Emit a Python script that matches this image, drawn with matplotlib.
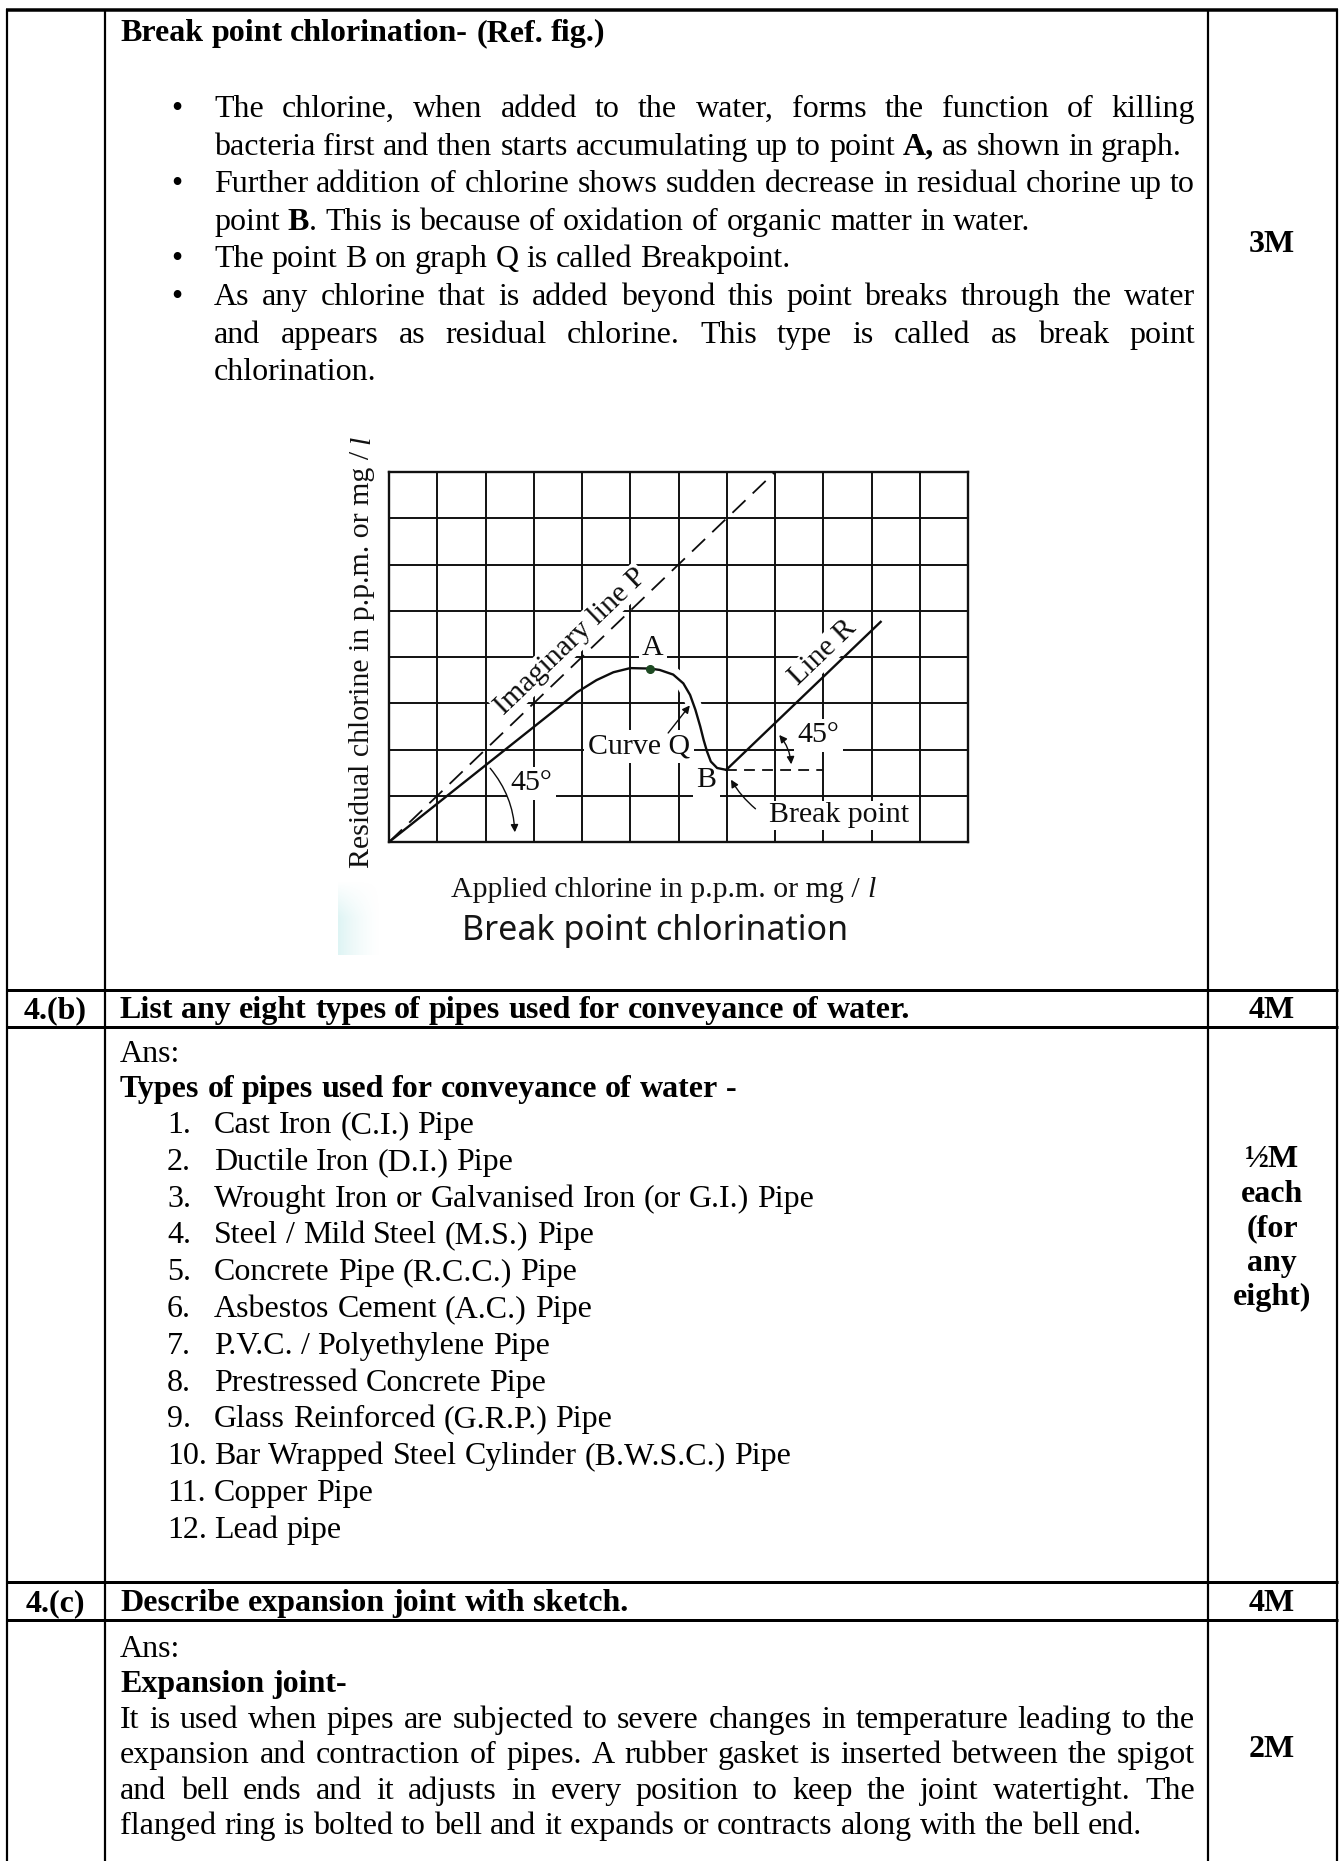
import numpy as np
import matplotlib
matplotlib.use("Agg")
import matplotlib.pyplot as plt
from matplotlib.patches import FancyArrowPatch

W, H = 1343, 1861
SERIF = "Liberation Serif"
SANS = "Noto Sans"
FS = 23
FS_FIG = 21.5

# ---------------- chart data (grid units: 12 x 8 squares) ----------------
n_cols, n_rows = 12, 8
line_p_u = [0.0, 8.0]
line_p_v = [0.0, 8.0]
curve_q_u = [0.0, 3.57, 3.90, 4.30, 4.65, 5.00, 5.41, 5.61, 5.89, 6.10, 6.24,
             6.35, 6.45, 6.52, 6.59, 6.67, 6.80, 6.99]
curve_q_v = [0.0, 2.96, 3.24, 3.50, 3.67, 3.76, 3.75, 3.72, 3.62, 3.43, 3.18,
             2.86, 2.50, 2.21, 1.96, 1.74, 1.60, 1.56]
point_a = (5.41, 3.75)
point_b = (6.99, 1.56)
line_r_u = [6.99, 10.19]
line_r_v = [1.56, 4.76]
b_dash_u = [6.99, 9.0]
b_dash_v = [1.56, 1.56]

# ---------------- page text ----------------
title_runs = [("Break point chlorination- (Ref. fig.)", True)]
bullet_lines = [
    ([("The chlorine, when added to the water, forms the function of killing", False)], True, True),
    ([("bacteria first and then starts accumulating up to point ", False), ("A,", True),
      (" as shown in graph.", False)], False, False),
    ([("Further addition of chlorine shows sudden decrease in residual chorine up to", False)], True, True),
    ([("point ", False), ("B", True), (". This is because of oxidation of organic matter in water.", False)],
     False, False),
    ([("The point B on graph Q is called Breakpoint.", False)], False, True),
    ([("As any chlorine that is added beyond this point breaks through the water", False)], True, True),
    ([("and appears as residual chlorine. This type is called as break point", False)], True, False),
    ([("chlorination.", False)], False, False),
]
pipe_types = ["Cast Iron (C.I.) Pipe", "Ductile Iron (D.I.) Pipe",
              "Wrought Iron or Galvanised Iron (or G.I.) Pipe", "Steel / Mild Steel (M.S.) Pipe",
              "Concrete Pipe (R.C.C.) Pipe", "Asbestos Cement (A.C.) Pipe",
              "P.V.C. / Polyethylene Pipe", "Prestressed Concrete Pipe",
              "Glass Reinforced (G.R.P.) Pipe", "Bar Wrapped Steel Cylinder (B.W.S.C.) Pipe",
              "Copper Pipe", "Lead pipe"]
marks_b = ["\u00bdM", "each", "(for", "any", "eight)"]
para_c = [
    ("It is used when pipes are subjected to severe changes in temperature leading to the", True),
    ("expansion and contraction of pipes. A rubber gasket is inserted between the spigot", True),
    ("and bell ends and it adjusts in every position to keep the joint watertight. The", True),
    ("flanged ring is bolted to bell and it expands or contracts along with the bell end.", False),
]

fig = plt.figure(figsize=(W / 100, H / 100), dpi=100)
fig.patch.set_facecolor("white")
page = fig.add_axes([0, 0, 1, 1])
page.set_xlim(0, W)
page.set_ylim(H, 0)
page.axis("off")
renderer = fig.canvas.get_renderer()

_cache = {}


def tw(s, bold=False, size=FS, family=SERIF, style="normal"):
    key = (s, bold, size, family, style)
    if key not in _cache:
        t = page.text(0, 0, s, fontsize=size, fontfamily=family,
                      fontweight="bold" if bold else "normal", fontstyle=style)
        _cache[key] = t.get_window_extent(renderer=renderer).width
        t.remove()
    return _cache[key]


def space_w(size=FS):
    return tw("x x", False, size) - tw("xx", False, size)


def words_of(runs):
    words = [[]]
    for txt, b in runs:
        parts = txt.split(" ")
        for k, p in enumerate(parts):
            if k > 0:
                words.append([])
            if p:
                words[-1].append((p, b))
    return [w for w in words if w]


def draw_line(runs, x0, y, x1=None, justify=False, size=FS):
    ws = words_of(runs)
    widths = [sum(tw(s, b, size) for s, b in w) for w in ws]
    if justify and len(ws) > 1:
        gap = (x1 - x0 - sum(widths)) / (len(ws) - 1)
    else:
        gap = space_w(size)
    x = x0
    for w, wd in zip(ws, widths):
        xx = x
        for s, b in w:
            page.text(xx, y, s, fontsize=size, fontfamily=SERIF,
                      fontweight="bold" if b else "normal", va="baseline", ha="left")
            xx += tw(s, b, size)
        x += wd + gap


def ctext(x, y, s, bold=True, size=FS):
    page.text(x, y, s, fontsize=size, fontfamily=SERIF, fontweight="bold" if bold else "normal",
              ha="center", va="baseline")


def hline(y, x0, x1, px):
    page.plot([x0, x1], [y, y], color="black", lw=px * 0.72, solid_capstyle="butt")


def vline(x, y0, y1, px):
    page.plot([x, x], [y0, y1], color="black", lw=px * 0.72, solid_capstyle="butt")


# ---------------- table rules ----------------
XL, XC1, XC2, XR = 7, 105, 1208, 1337
for x in (XL, XC1, XC2, XR):
    vline(x, 9, H, 2.2)
hline(10, XL - 1, XR + 1, 3.5)
for y in (990, 1027, 1582, 1620):
    hline(y, XL - 1, XR + 1, 3.0)

TX0, TX1 = 120, 1195
BX0 = 214

# ---------------- row 1 ----------------
draw_line(title_runs, TX0, 41)
for i, (runs, just, bul) in enumerate(bullet_lines):
    y = 117 + 37.6 * i
    if bul:
        page.text(177, y, "\u2022", fontsize=FS, fontfamily=SERIF, ha="center", va="baseline")
    draw_line(runs, BX0, y, TX1, just)
ctext(1272, 252, "3M")

# ---------------- row 4(b) ----------------
ctext(55, 1018, "4.(b)")
draw_line([("List any eight types of pipes used for conveyance of water.", True)], TX0, 1018)
ctext(1272, 1018, "4M")
draw_line([("Ans:", False)], TX0, 1062)
draw_line([("Types of pipes used for conveyance of water -", True)], TX0, 1097)
for i, name in enumerate(pipe_types):
    y = 1133 + 36.8 * i
    page.text(167, y, f"{i + 1}.", fontsize=FS, fontfamily=SERIF, ha="left", va="baseline")
    draw_line([(name, False)], BX0, y)
for i, m in enumerate(marks_b):
    ctext(1272, 1167 + 34.6 * i, m)

# ---------------- row 4(c) ----------------
ctext(55, 1611, "4.(c)")
draw_line([("Describe expansion joint with sketch.", True)], TX0, 1611)
ctext(1272, 1611, "4M")
draw_line([("Ans:", False)], TX0, 1657)
draw_line([("Expansion joint-", True)], TX0, 1692)
for i, (s, just) in enumerate(para_c):
    draw_line([(s, False)], TX0, 1728 + 35.3 * i, TX1, just)
ctext(1272, 1757, "2M")

# ---------------- figure captions ----------------
ylab = "Residual chlorine in p.p.m. or mg /"
L = tw(ylab, size=FS_FIG) + space_w(FS_FIG) + tw("l", size=FS_FIG, style="italic")
y_start = 652 + L / 2
page.text(369, y_start, ylab, rotation=90, rotation_mode="anchor", ha="left", va="baseline",
          fontsize=FS_FIG, fontfamily=SERIF, color="#111111")
page.text(369, y_start - tw(ylab, size=FS_FIG) - space_w(FS_FIG), "l", rotation=90,
          rotation_mode="anchor", ha="left", va="baseline", fontsize=FS_FIG, fontfamily=SERIF,
          fontstyle="italic", color="#111111")

xlab = "Applied chlorine in p.p.m. or mg /"
L = tw(xlab, size=FS_FIG) + space_w(FS_FIG) + tw("l", size=FS_FIG, style="italic")
x_start = 663.5 - L / 2
page.text(x_start, 897, xlab, ha="left", va="baseline", fontsize=FS_FIG, fontfamily=SERIF,
          color="#111111")
page.text(x_start + tw(xlab, size=FS_FIG) + space_w(FS_FIG), 897, "l", ha="left", va="baseline",
          fontsize=FS_FIG, fontfamily=SERIF, fontstyle="italic", color="#111111")

page.text(655.5, 940, "Break point chlorination", ha="center", va="baseline", fontsize=24.5,
          fontfamily=SANS, color="#151515")

# faint scan tint at the lower-left of the figure
ny, nx = 30, 24
grad = np.zeros((ny, nx, 4))
grad[..., 0] = 0.70
grad[..., 1] = 0.90
grad[..., 2] = 0.90
fade_x = np.linspace(1.0, 0.0, nx) ** 1.5
fade_y = np.clip(np.linspace(0.0, 2.0, ny), 0, 1)
grad[..., 3] = 0.42 * fade_y[:, None] * fade_x[None, :]
page.imshow(grad, extent=(338, 382, 955, 880), aspect="auto", zorder=0.5, interpolation="bilinear")
page.set_xlim(0, W)
page.set_ylim(H, 0)

# ---------------- chart ----------------
gx0, gx1, gy0, gy1 = 389, 968, 472, 842
ax = fig.add_axes([gx0 / W, 1 - gy1 / H, (gx1 - gx0) / W, (gy1 - gy0) / H])
ax.set_xlim(0, n_cols)
ax.set_ylim(0, n_rows)
ax.set_xticks(np.arange(n_cols + 1))
ax.set_yticks(np.arange(n_rows + 1))
ax.tick_params(length=0, labelbottom=False, labelleft=False)
ax.set_axisbelow(True)
ax.grid(True, color="#111111", lw=1.4)
for sp in ax.spines.values():
    sp.set_linewidth(1.7)
    sp.set_color("#111111")
ax.set_facecolor("white")

ink = "#0d0d0d"
ax.plot(line_p_u, line_p_v, color=ink, lw=1.3, linestyle=(0, (10, 5.5)), zorder=4)
cu, cv = np.array(curve_q_u), np.array(curve_q_v)
sel = (cu >= 5.6) & (cu <= 6.55)
ax.plot(cu[sel], cv[sel], color="white", lw=11, solid_capstyle="round", zorder=1.5)
ax.plot(cu, cv, color=ink, lw=1.7, zorder=4, solid_joinstyle="round")
ax.plot(line_r_u, line_r_v, color=ink, lw=1.7, zorder=4)
ax.plot(b_dash_u, b_dash_v, color=ink, lw=1.3, linestyle=(0, (6, 4)), zorder=4)
ax.plot([point_a[0]], [point_a[1]], "o", color="#1d4a22", ms=5.5, zorder=5)

box = dict(boxstyle="square,pad=0.12", fc="white", ec="none")
tkw = dict(fontsize=FS_FIG, fontfamily=SERIF, ha="center", va="center", zorder=3, color=ink)
ax.text(5.47, 4.20, "A", bbox=box, **tkw)
ax.text(6.58, 1.33, "B", bbox=box, **tkw)
ax.text(5.18, 2.06, "Curve Q", bbox=box, **tkw)
ax.text(2.95, 1.27, "45\u00b0", bbox=box, **tkw)
ax.text(8.90, 2.31, "45\u00b0", bbox=box, **tkw)
ax.text(9.33, 0.58, "Break point", bbox=dict(boxstyle="square,pad=0.05", fc="white", ec="none"), **tkw)
ax.text(3.76, 4.33, "Imaginary line P", rotation=43.8, rotation_mode="anchor",
        bbox=dict(boxstyle="square,pad=0.05", fc="white", ec="none"), **tkw)
ax.text(9.00, 4.09, "Line R", rotation=43.8, rotation_mode="anchor",
        bbox=dict(boxstyle="square,pad=0.05", fc="white", ec="none"), **tkw)

akw = dict(color=ink, lw=1.0, zorder=4, mutation_scale=11)
ax.add_patch(FancyArrowPatch((5.75, 2.31), (6.27, 3.00), arrowstyle="-|>", **akw))
ax.add_patch(FancyArrowPatch((7.64, 0.68), (7.06, 1.40), arrowstyle="-|>",
                             connectionstyle="arc3,rad=-0.1", **akw))
ax.add_patch(FancyArrowPatch((2.06, 1.64), (2.61, 0.15), arrowstyle="-|>",
                             connectionstyle="arc3,rad=-0.18", **akw))
ax.add_patch(FancyArrowPatch((8.05, 2.36), (8.34, 1.62), arrowstyle="<|-|>",
                             connectionstyle="arc3,rad=-0.18", **akw))

fig.savefig("out.png", dpi=100, facecolor="white")
